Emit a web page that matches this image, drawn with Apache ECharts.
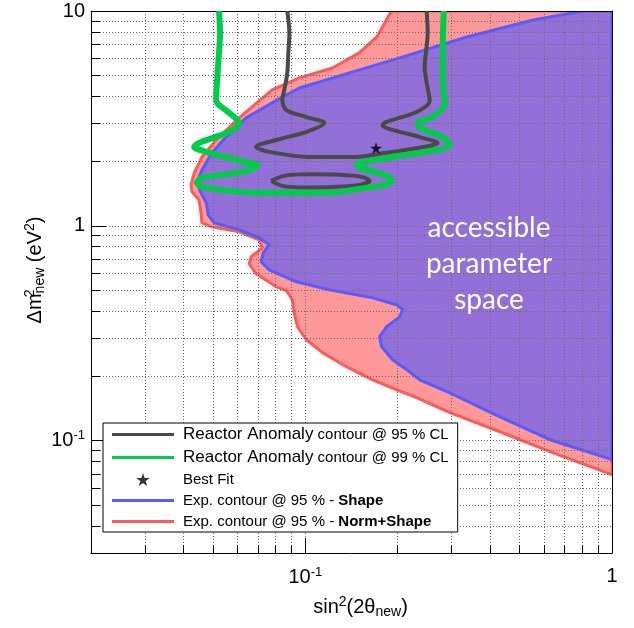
<!DOCTYPE html>
<html><head><meta charset="utf-8">
<script src="https://cdn.jsdelivr.net/npm/echarts@6/dist/echarts.min.js"></script>
<style>html,body{margin:0;padding:0;background:#fff}#c{width:634px;height:628px}</style>
</head><body><div id="c"></div>
<script>
// ---------- data ----------
const xTickValues = [0.02,0.03,0.04,0.05,0.06,0.07,0.08,0.09,0.1,0.2,0.3,0.4,0.5,0.6,0.7,0.8,0.9,1];
const yTickValues = [0.03,0.04,0.05,0.06,0.07,0.08,0.09,0.1,0.2,0.3,0.4,0.5,0.6,0.7,0.8,0.9,1,2,3,4,5,6,7,8,9,10];
const xLabelValues = [0.1, 1];
const yLabelValues = [0.1, 1, 10];

// Exp. contour @ 95 % - Norm+Shape (red)
const normShapeX = [0.191,0.171,0.150,0.1225,0.0956,0.078,0.0608,0.0512,0.046,0.0434,0.0424,0.0427,0.045,0.0457,0.046,0.0496,0.0608,0.0707,0.0724,0.0666,0.0656,0.0691,0.0804,0.0867,0.0907,0.092,0.0942,0.1008,0.1137,0.1362,0.1657,0.1985,0.2307,0.296,0.431,0.628,1.0];
const normShapeY = [10,7.57,6.38,5.43,4.88,4.29,3.18,2.51,2.09,1.764,1.551,1.439,1.321,1.149,1.033,0.989,0.938,0.861,0.79,0.718,0.666,0.598,0.520,0.50,0.453,0.394,0.339,0.295,0.257,0.221,0.192,0.1726,0.1585,0.135,0.110,0.0889,0.0695];

// Exp. contour @ 95 % - Shape (blue)
const shapeX = [0.806,0.553,0.336,0.203,0.1393,0.0956,0.0841,0.0641,0.0551,0.0496,0.046,0.0443,0.0457,0.0475,0.0482,0.0504,0.0608,0.0707,0.0762,0.0729,0.0718,0.0762,0.0935,0.1198,0.1657,0.1985,0.2077,0.203,0.184,0.1746,0.1773,0.1926,0.214,0.236,0.296,0.431,0.628,1.0];
const shapeY = [10,9.08,7.57,6.05,5.15,4.38,3.98,3.18,2.59,2.19,1.821,1.585,1.424,1.279,1.125,1.033,0.958,0.88,0.816,0.749,0.680,0.624,0.549,0.504,0.462,0.429,0.407,0.377,0.339,0.305,0.2736,0.238,0.214,0.192,0.167,0.129,0.101,0.0816];

// Reactor Anomaly contour @ 95 % CL (grey): open branch + island
const ra95X = [0.0873,0.0887,0.088,0.0873,0.0854,0.0841,0.0867,0.1008,0.1154,0.1008,0.0804,0.0691,0.0762,0.1054,0.1425,0.184,0.236,0.270,0.236,0.1786,0.184,0.2307,0.2544,0.2487,0.245,0.2506,0.2487];
const ra95Y = [10,7.9,6.38,5.15,4.29,3.855,3.46,3.21,3.01,2.74,2.51,2.33,2.21,2.09,2.09,2.19,2.31,2.43,2.59,2.95,3.05,3.39,3.81,4.63,5.49,7.9,10];
const ra95IslandX = [0.0774,0.0854,0.103,0.1292,0.1525,0.162,0.1502,0.1244,0.0993,0.0841,0.0774];
const ra95IslandY = [1.619,1.708,1.736,1.727,1.69,1.619,1.551,1.518,1.51,1.535,1.619];

// Reactor Anomaly contour @ 99 % CL (green)
const ra99X = [0.0523,0.0527,0.0519,0.0512,0.0519,0.0564,0.0608,0.0564,0.045,0.0434,0.0475,0.0595,0.0697,0.0595,0.046,0.0443,0.0475,0.0724,0.1198,0.1425,0.191,0.188,0.1502,0.1469,0.184,0.296,0.2806,0.236,0.2325,0.260,0.285,0.2806,0.2806,0.2827];
const ra99Y = [10,7.9,5.49,3.855,3.69,3.36,3.01,2.74,2.43,2.33,2.21,2.03,1.901,1.764,1.672,1.585,1.502,1.424,1.424,1.47,1.602,1.69,1.862,1.921,2.07,2.38,2.59,2.86,3.01,3.21,3.73,4.63,6.59,10];

// Best fit
const bestFitX = [0.17];
const bestFitY = [2.3];

const xRange = [0.02, 1];
const yRange = [0.03, 10];

// ---------- build ----------
const L = Math.log10;
const pts = (xs, ys) => xs.map((x, i) => [L(x), L(ys[i])]);
const N95 = 'Reactor Anomaly contour @ 95 % CL';
const N99 = 'Reactor Anomaly contour @ 99 % CL';
const NBF = 'Best Fit';
const NSH = 'Exp. contour @ 95 % - Shape';
const NNS = 'Exp. contour @ 95 % - Norm+Shape';
const FONT = 'Liberation Sans';
const LINE_ICON = 'path://M0,0H62V3H0Z';
const STAR = 'path://M50,0L61.2,34.5L97.6,34.5L68.2,55.9L79.4,90.5L50,69.1L20.6,90.5L31.8,55.9L2.4,34.5L38.8,34.5Z';

function fillPolygon(xs, ys, fill, stroke) {
  const poly = pts(xs, ys);
  const closed = poly.concat([[L(xRange[1]), L(yRange[1])]]);
  return (params, api) => ({
    type: 'polygon',
    shape: { points: closed.map(p => api.coord(p)) },
    style: { fill: fill, stroke: stroke, lineWidth: 3, lineJoin: 'round' }
  });
}
const tickFmt = v => {
  const e = Math.round(v);
  if (e === 0) return '1';
  if (e === 1) return '10';
  return '10{sup|' + e + '}';
};
const labelRich = { sup: { fontSize: 13, fontFamily: FONT, color: '#000', padding: [0, 0, 10, 0] } };
const gridLine = { show: true, lineStyle: { color: '#6a6a6a', type: [1, 2], width: 1 } };

const chart = echarts.init(document.getElementById('c'), null, { renderer: 'canvas' });
chart.setOption({
  animation: false,
  backgroundColor: '#fff',
  grid: { left: 91, right: 22, top: 11, bottom: 75, outerBoundsMode: 'none', containLabel: false },
  xAxis: [
    { type: 'value', min: L(xRange[0]), max: L(xRange[1]), position: 'bottom', z: 2,
      axisLine: { show: true, onZero: false, lineStyle: { color: '#000', width: 1 } },
      axisTick: { show: true, inside: true, length: 8, customValues: xTickValues.map(L), lineStyle: { color: '#000' } },
      axisLabel: { show: true, customValues: xLabelValues.map(L), formatter: tickFmt, margin: 13, color: '#000', fontSize: 20, fontFamily: FONT, rich: labelRich },
      splitLine: gridLine,
      name: 'sin{sup|2}(2θ{sub|new})', nameLocation: 'middle', nameGap: 42, nameMoveOverlap: false,
      nameTextStyle: { fontSize: 20, fontFamily: FONT, color: '#000', padding: [0, 0, 0, 18],
        rich: { sup: { fontSize: 14, fontFamily: FONT, padding: [0, 0, 10, 0] }, sub: { fontSize: 14, fontFamily: FONT, padding: [10, 0, 0, 0] } } }
    },
    { type: 'value', min: L(xRange[0]), max: L(xRange[1]), position: 'bottom', z: 2,
      axisLine: { show: false, onZero: false },
      axisTick: { show: true, inside: true, length: 15, customValues: xLabelValues.map(L), lineStyle: { color: '#000' } },
      axisLabel: { show: false }, splitLine: { show: false } },
    { type: 'value', min: L(xRange[0]), max: L(xRange[1]), position: 'top', z: 2,
      axisLine: { show: true, onZero: false, lineStyle: { color: '#000', width: 1 } },
      axisTick: { show: false }, axisLabel: { show: false }, splitLine: { show: false } }
  ],
  yAxis: [
    { type: 'value', min: L(yRange[0]), max: L(yRange[1]), position: 'left', z: 2,
      axisLine: { show: true, onZero: false, lineStyle: { color: '#000', width: 1 } },
      axisTick: { show: true, inside: true, length: 9, customValues: yTickValues.map(L), lineStyle: { color: '#000' } },
      axisLabel: { show: true, customValues: yLabelValues.map(L), formatter: tickFmt, margin: 6, color: '#000', fontSize: 20, fontFamily: FONT, rich: labelRich },
      splitLine: gridLine,
      name: 'Δm{sup|2}{sub|new} (eV{sup2|2})', nameLocation: 'middle', nameGap: 44, nameMoveOverlap: false,
      nameTextStyle: { fontSize: 20, fontFamily: FONT, color: '#000', padding: [0, 0, 0, 24],
        rich: { sup: { fontSize: 14, fontFamily: FONT, width: 0, padding: [0, 0, 10, 0] }, sup2: { fontSize: 14, fontFamily: FONT, padding: [0, 0, 10, 0] }, sub: { fontSize: 14, fontFamily: FONT, padding: [10, 0, 0, 0] } } }
    },
    { type: 'value', min: L(yRange[0]), max: L(yRange[1]), position: 'left', z: 2,
      axisLine: { show: false, onZero: false },
      axisTick: { show: true, inside: true, length: 15, customValues: yLabelValues.map(L), lineStyle: { color: '#000' } },
      axisLabel: { show: false }, splitLine: { show: false } },
    { type: 'value', min: L(yRange[0]), max: L(yRange[1]), position: 'right', z: 2,
      axisLine: { show: true, onZero: false, lineStyle: { color: '#000', width: 1 } },
      axisTick: { show: false }, axisLabel: { show: false }, splitLine: { show: false } }
  ],
  legend: {
    orient: 'vertical', left: 103, top: 423, padding: [3, 9, 3, 9], itemGap: 6,
    itemWidth: 62, itemHeight: 13, backgroundColor: '#fff', borderColor: '#000', borderWidth: 1, borderRadius: 0,
    z: 10, selectedMode: false,
    data: [
      { name: N95, icon: LINE_ICON, itemStyle: { color: '#4a4a4a', borderWidth: 0 } },
      { name: N99, icon: LINE_ICON, itemStyle: { color: '#00cc4a', borderWidth: 0 } },
      { name: NBF, icon: STAR, itemStyle: { color: '#000', borderWidth: 0 } },
      { name: NSH, icon: LINE_ICON, itemStyle: { color: '#5a5aff', borderWidth: 0 } },
      { name: NNS, icon: LINE_ICON, itemStyle: { color: '#ff5a5a', borderWidth: 0 } }
    ],
    formatter: name => {
      if (name.indexOf('Reactor Anomaly ') === 0) return '{big|Reactor Anomaly}{n| ' + name.slice(16) + '}';
      const k = name.indexOf(' - ');
      if (k > 0) return '{n0|' + name.slice(0, k + 3) + '}{bd|' + name.slice(k + 3) + '}';
      return '{n0|' + name + '}';
    },
    textStyle: { fontFamily: FONT, color: '#000', rich: {
      big: { fontSize: 17, lineHeight: 18, fontFamily: FONT, color: '#000', padding: [0, 0, 0, 4] },
      n: { fontSize: 15, lineHeight: 18, fontFamily: FONT, color: '#000' },
      n0: { fontSize: 15, lineHeight: 18, fontFamily: FONT, color: '#000', padding: [0, 0, 0, 4] },
      bd: { fontSize: 15, lineHeight: 18, fontFamily: FONT, color: '#000', fontWeight: 'bold' }
    } }
  },
  graphic: [{
    type: 'text', x: 489, y: 210, z: 5,
    style: { text: 'accessible\nparameter\nspace', fill: '#fff', fontSize: 28, fontFamily: 'Lato', textAlign: 'center', textVerticalAlign: 'top', lineHeight: 36 }
  }],
  series: [
    { type: 'custom', name: NNS, xAxisIndex: 0, yAxisIndex: 0, z: 1, clip: true, silent: true,
      data: [[L(xRange[1]), L(yRange[1])]], itemStyle: { color: '#ff5a5a' },
      renderItem: fillPolygon(normShapeX, normShapeY, '#ff9999', '#ff5a5a') },
    { type: 'custom', name: NSH, xAxisIndex: 0, yAxisIndex: 0, z: 1.1, clip: true, silent: true,
      data: [[L(xRange[1]), L(yRange[1])]], itemStyle: { color: '#5a5aff' },
      renderItem: fillPolygon(shapeX, shapeY, '#9370d8', '#5a5aff') },
    { type: 'line', name: N95, z: 3, data: pts(ra95X, ra95Y), symbol: 'none', smooth: 0.3,
      lineStyle: { color: '#4a4a4a', width: 4 }, itemStyle: { color: '#4a4a4a' }, clip: true },
    { type: 'line', name: N95, z: 3, data: pts(ra95IslandX, ra95IslandY), symbol: 'none', smooth: 0.3,
      lineStyle: { color: '#4a4a4a', width: 4 }, itemStyle: { color: '#4a4a4a' }, clip: true },
    { type: 'line', name: N99, z: 3, data: pts(ra99X, ra99Y), symbol: 'none', smooth: 0.3,
      lineStyle: { color: '#00cc4a', width: 6 }, itemStyle: { color: '#00cc4a' }, clip: true },
    { type: 'scatter', name: NBF, z: 4, data: pts(bestFitX, bestFitY), symbol: STAR, symbolSize: 12,
      itemStyle: { color: '#000' } }
  ]
});
</script>
</body></html>
